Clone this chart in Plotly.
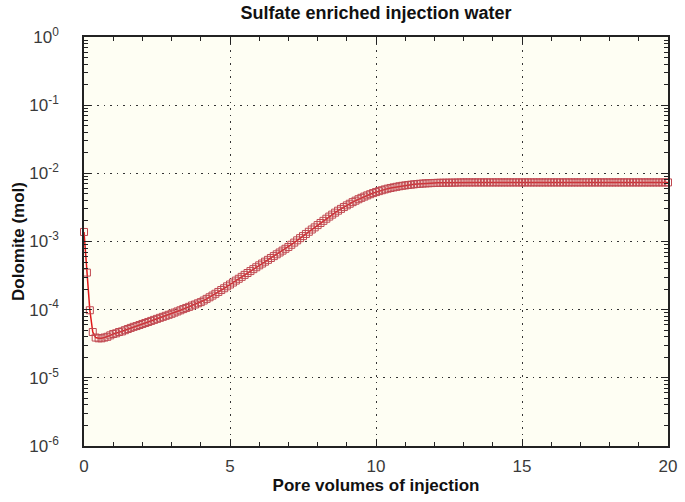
import plotly.graph_objects as go

title_text = "Sulfate enriched injection water"
x_title = "Pore volumes of injection"
y_title = "Dolomite (mol)"

pore_volumes = [round(i * 0.1, 1) for i in range(201)]

dolomite_mol = [
    1.38e-3, 3.5e-4, 9.8e-5, 4.7e-5, 3.9e-5, 3.8e-5, 3.8e-5, 3.9e-5, 4.0e-5, 4.2e-5,
    4.4e-5, 4.5e-5, 4.7e-5, 4.8e-5, 5.0e-5, 5.2e-5, 5.4e-5, 5.6e-5, 5.75e-5, 5.96e-5,
    6.17e-5, 6.38e-5, 6.6e-5, 6.84e-5, 7.08e-5, 7.33e-5, 7.59e-5, 7.85e-5, 8.13e-5, 8.41e-5,
    8.71e-5, 9.06e-5, 9.42e-5, 9.79e-5, 1.02e-4, 1.06e-4, 1.10e-4, 1.15e-4, 1.19e-4, 1.24e-4,
    1.29e-4, 1.36e-4, 1.44e-4, 1.52e-4, 1.61e-4, 1.71e-4, 1.82e-4, 1.94e-4, 2.06e-4, 2.20e-4,
    2.34e-4, 2.50e-4, 2.67e-4, 2.84e-4, 3.03e-4, 3.24e-4, 3.45e-4, 3.68e-4, 3.93e-4, 4.19e-4,
    4.47e-4, 4.75e-4, 5.06e-4, 5.38e-4, 5.73e-4, 6.10e-4, 6.49e-4, 6.90e-4, 7.35e-4, 7.82e-4,
    8.32e-4, 8.95e-4, 9.64e-4, 1.04e-3, 1.12e-3, 1.20e-3, 1.29e-3, 1.39e-3, 1.50e-3, 1.61e-3,
    1.74e-3, 1.87e-3, 2.01e-3, 2.16e-3, 2.32e-3, 2.48e-3, 2.65e-3, 2.83e-3, 3.01e-3, 3.20e-3,
    3.39e-3, 3.58e-3, 3.78e-3, 3.97e-3, 4.17e-3, 4.37e-3, 4.56e-3, 4.75e-3, 4.94e-3, 5.13e-3,
    5.31e-3, 5.48e-3, 5.65e-3, 5.81e-3, 5.96e-3, 6.10e-3, 6.22e-3, 6.34e-3, 6.46e-3, 6.56e-3,
    6.65e-3, 6.75e-3, 6.82e-3, 6.90e-3, 6.97e-3, 7.03e-3, 7.08e-3, 7.13e-3, 7.16e-3, 7.19e-3,
    7.23e-3, 7.25e-3, 7.27e-3, 7.28e-3, 7.29e-3, 7.30e-3, 7.31e-3, 7.32e-3, 7.33e-3, 7.36e-3,
    7.36e-3, 7.36e-3, 7.36e-3, 7.36e-3, 7.36e-3, 7.36e-3, 7.36e-3, 7.36e-3, 7.36e-3, 7.36e-3,
    7.36e-3, 7.36e-3, 7.36e-3, 7.36e-3, 7.36e-3, 7.36e-3, 7.36e-3, 7.36e-3, 7.36e-3, 7.36e-3,
    7.36e-3, 7.36e-3, 7.36e-3, 7.36e-3, 7.36e-3, 7.36e-3, 7.36e-3, 7.36e-3, 7.36e-3, 7.36e-3,
    7.36e-3, 7.36e-3, 7.36e-3, 7.36e-3, 7.36e-3, 7.36e-3, 7.36e-3, 7.36e-3, 7.36e-3, 7.36e-3,
    7.36e-3, 7.36e-3, 7.36e-3, 7.36e-3, 7.36e-3, 7.36e-3, 7.36e-3, 7.36e-3, 7.36e-3, 7.36e-3,
    7.36e-3, 7.36e-3, 7.36e-3, 7.36e-3, 7.36e-3, 7.36e-3, 7.36e-3, 7.36e-3, 7.36e-3, 7.36e-3,
    7.36e-3, 7.36e-3, 7.36e-3, 7.36e-3, 7.36e-3, 7.36e-3, 7.36e-3, 7.36e-3, 7.36e-3, 7.36e-3,
    7.36e-3, 7.36e-3, 7.36e-3, 7.36e-3, 7.36e-3, 7.36e-3, 7.36e-3, 7.36e-3, 7.36e-3, 7.36e-3,
    7.36e-3,
]

x_tick_vals = [0, 5, 10, 15, 20]
x_tick_text = ["0", "5", "10", "15", "20"]
y_tick_vals = [1e0, 1e-1, 1e-2, 1e-3, 1e-4, 1e-5, 1e-6]
y_tick_text = ["10<sup>0</sup>", "10<sup>-1</sup>", "10<sup>-2</sup>", "10<sup>-3</sup>",
               "10<sup>-4</sup>", "10<sup>-5</sup>", "10<sup>-6</sup>"]

# minor tick positions on the log axis (2..9 in each decade)
y_minor = [m * 10.0 ** e for e in range(-6, 0) for m in range(2, 10)]

fig = go.Figure()

fig.add_trace(go.Scatter(
    x=pore_volumes, y=dolomite_mol, mode="lines+markers",
    line=dict(color="#e01818", width=1.5),
    marker=dict(symbol="square-open", size=7,
                line=dict(color="#c04850", width=1), color="#c04850"),
    showlegend=False, cliponaxis=False,
))

tick_font = dict(family="Liberation Sans, Arial, sans-serif", size=17, color="#3a3a3a")
title_font = dict(family="Liberation Sans, Arial, sans-serif", size=18, color="#111111")
axis_title_font = dict(family="Liberation Sans, Arial, sans-serif", size=17, color="#111111")

grid_dash = "1.5px,5px"

fig.update_layout(
    width=685, height=502,
    margin=dict(l=84, r=17, t=37, b=56),
    paper_bgcolor="white",
    plot_bgcolor="#fefef3",
    title=dict(text="<b>" + title_text + "</b>", x=0.549, xanchor="center",
               y=0.975, yanchor="middle", font=title_font),
    xaxis=dict(
        range=[0, 20], tickvals=x_tick_vals, ticktext=x_tick_text,
        ticks="inside", ticklen=7, tickcolor="#222", tickwidth=1,
        showline=True, linecolor="#222", linewidth=1.5, mirror="allticks",
        showgrid=True, gridcolor="#333", griddash=grid_dash, gridwidth=1.3,
        zeroline=False, tickfont=tick_font, automargin=False,
        ticklabelstandoff=4,
        minor=dict(dtick=1, ticks="inside", ticklen=4, tickcolor="#222", showgrid=False),
        title=dict(text="<b>" + x_title + "</b>", font=axis_title_font, standoff=4),
    ),
    yaxis=dict(
        type="log", range=[-6, 0], tickvals=y_tick_vals, ticktext=y_tick_text,
        ticks="inside", ticklen=7, tickcolor="#222", tickwidth=1,
        showline=True, linecolor="#222", linewidth=1.5, mirror="allticks",
        showgrid=True, gridcolor="#333", griddash=grid_dash, gridwidth=1.3,
        zeroline=False, tickfont=tick_font, automargin=False,
        ticklabelstandoff=20,
        minor=dict(tickvals=y_minor, ticks="inside", ticklen=4, tickcolor="#222", showgrid=False),
        title=dict(text="<b>" + y_title + "</b>", font=axis_title_font, standoff=0),
    ),
)

fig.write_html("out.html", config={"displayModeBar": False},
               post_script="document.body.style.margin='0';")
